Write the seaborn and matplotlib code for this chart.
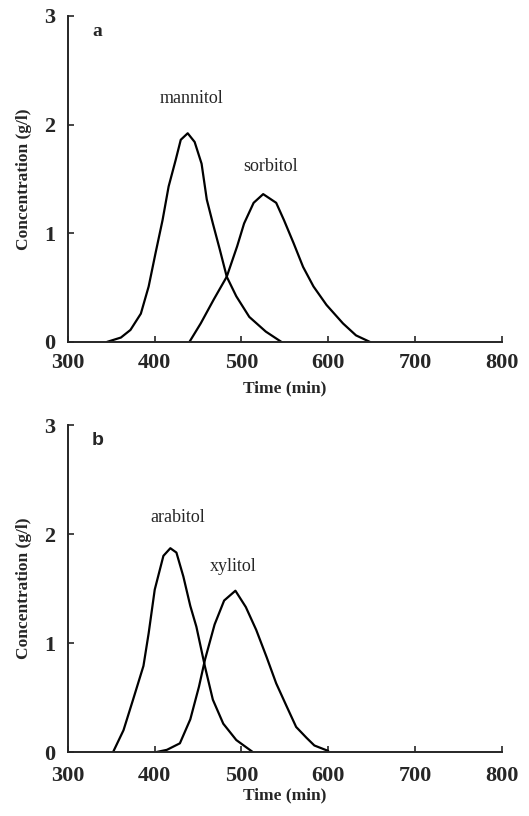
import numpy as np
import pandas as pd
import matplotlib
matplotlib.use('Agg')
import matplotlib.pyplot as plt
import seaborn as sns

# panel a
mannitol_t = [345, 361, 372, 384, 393, 401, 409, 416, 424, 430, 438, 446, 454, 460, 467, 475,
              483, 494, 509, 528, 546]
mannitol_c = [0.0, 0.04, 0.11, 0.26, 0.51, 0.82, 1.12, 1.43, 1.67, 1.86, 1.92, 1.84, 1.64, 1.31,
              1.09, 0.85, 0.60, 0.42, 0.23, 0.095, 0.0]
sorbitol_t = [440, 453, 468, 483, 495, 503, 514, 525, 540, 549, 560, 571, 583, 598, 617, 632, 648]
sorbitol_c = [0.0, 0.17, 0.39, 0.60, 0.88, 1.09, 1.28, 1.36, 1.28, 1.12, 0.91, 0.69, 0.51, 0.34,
              0.17, 0.06, 0.0]

# panel b
arabitol_t = [352, 364, 375, 387, 393, 400, 410, 418, 425, 433, 441, 448, 458, 467, 479, 494, 513]
arabitol_c = [0.0, 0.20, 0.48, 0.79, 1.09, 1.49, 1.80, 1.87, 1.83, 1.61, 1.34, 1.15, 0.78, 0.48,
              0.26, 0.11, 0.0]
xylitol_t = [402, 414, 429, 441, 451, 458, 469, 480, 493, 505, 517, 529, 540, 552, 563, 575, 584,
             600]
xylitol_c = [0.0, 0.02, 0.08, 0.30, 0.60, 0.85, 1.17, 1.39, 1.48, 1.33, 1.12, 0.87, 0.63, 0.42,
             0.23, 0.13, 0.06, 0.01]

panels = [
    ('a', 'Liberation Serif', [('mannitol', mannitol_t, mannitol_c, 443, 2.24),
                               ('sorbitol', sorbitol_t, sorbitol_c, 533, 1.61)]),
    ('b', 'Liberation Sans', [('arabitol', arabitol_t, arabitol_c, 426, 2.15),
                              ('xylitol', xylitol_t, xylitol_c, 490, 1.70)]),
]
xpads = [8, 10]
xlabelpads = [5, 1]

sns.set_style('ticks')
plt.rcParams['font.family'] = ['Liberation Serif', 'DejaVu Serif']

fig = plt.figure(figsize=(5.29, 8.16), dpi=100)
axes = [fig.add_axes([0.1285, 0.581, 0.820, 0.3995]),
        fig.add_axes([0.1285, 0.0784, 0.820, 0.4007])]

for i, (ax, (letter, letter_font, curves)) in enumerate(zip(axes, panels)):
    for name, t, c, lx, ly in curves:
        df = pd.DataFrame({'Time': t, 'Conc': c})
        sns.lineplot(data=df, x='Time', y='Conc', color='black', linewidth=1.6,
                     estimator=None, sort=False, ax=ax)
        ax.text(lx, ly, name, ha='center', va='center', fontsize=13)
    ax.text(334, 2.86, letter, ha='center', va='center', fontsize=14, fontweight='bold',
            family=[letter_font, 'DejaVu Sans'])
    ax.set_xlim(300, 800)
    ax.set_ylim(0, 3)
    ax.set_xticks([300, 400, 500, 600, 700, 800])
    ax.set_yticks([0, 1, 2, 3])
    ax.tick_params(direction='in', length=4, width=1.2, labelsize=16)
    ax.tick_params(axis='x', pad=xpads[i])
    ax.tick_params(axis='y', pad=9)
    for lab in ax.get_xticklabels() + ax.get_yticklabels():
        lab.set_fontweight('bold')
    ax.set_xlabel('Time (min)', fontsize=12.5, fontweight='bold', labelpad=xlabelpads[i])
    ax.set_ylabel('Concentration (g/l)', fontsize=12.5, fontweight='bold', labelpad=9)
    for s in ['top', 'right']:
        ax.spines[s].set_visible(False)
    for s in ['left', 'bottom']:
        ax.spines[s].set_linewidth(1.4)

fig.savefig('out.png', dpi=100)
